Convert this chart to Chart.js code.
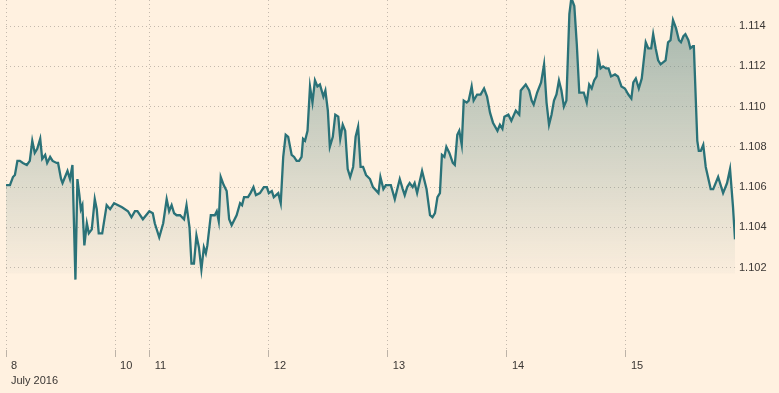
<!DOCTYPE html>
<html>
<head>
<meta charset="utf-8">
<script src="https://cdn.jsdelivr.net/npm/chart.js@4/dist/chart.umd.min.js"></script>
<style>
  html, body { margin: 0; padding: 0; background: #fff1e0; }
  #wrap { width: 779px; height: 393px; }
</style>
</head>
<body>
<div id="wrap"><canvas id="grafikKurs"></canvas></div>
<script>
// trading hours since the open of 8 July (weekend squeezed out)
const jam = [0, 0.8, 1.4, 1.8, 2.3, 2.8, 3.4, 4.2, 4.8, 5.3, 5.8, 6.3, 6.9, 7.3, 7.9, 8.3, 8.9, 9.4, 10.2, 10.5,
  11.1, 11.4, 11.9, 12.4, 12.9, 13.4, 14.0, 14.4, 14.8, 15.1, 15.4, 15.8, 16.3, 16.7, 17.3, 17.9, 18.3, 18.7, 19.4, 20.3,
  21.0, 21.8, 23.4, 24.6, 25.3, 26.0, 26.5, 27.6, 28.9, 29.6, 30.0, 30.9, 31.7, 32.4, 32.9, 33.4, 33.9, 34.4, 35.1, 35.9,
  36.4, 37.0, 37.4, 37.9, 38.4, 38.9, 39.4, 39.9, 40.3, 40.6, 41.3, 42.1, 42.5, 42.9, 43.3, 43.9, 44.5, 45.0, 45.5, 46.5,
  47.2, 47.6, 48.0, 48.8, 49.3, 49.9, 50.4, 51.2, 52.0, 52.6, 53.0, 53.6, 54.0, 54.9, 55.4, 55.9, 56.4, 56.9, 57.6, 58.1,
  58.6, 59.1, 59.6, 59.9, 60.3, 60.8, 61.3, 61.8, 62.3, 62.8, 63.3, 64.0, 64.4, 64.9, 65.3, 65.9, 66.4, 67.0, 67.4, 67.9,
  68.4, 68.9, 69.4, 70.0, 70.5, 71.0, 71.5, 72.0, 72.6, 73.4, 74.0, 75.1, 75.5, 76.1, 76.6, 77.6, 78.4, 79.4, 80.0, 80.4,
  80.9, 81.4, 82.0, 82.4, 82.9, 83.9, 84.8, 85.5, 86.0, 86.5, 87.0, 87.5, 87.9, 88.4, 88.8, 89.4, 90.1, 90.5, 91.0, 91.4,
  91.9, 92.3, 92.9, 93.3, 93.9, 94.3, 95.0, 95.7, 96.4, 97.0, 97.6, 98.2, 99.1, 99.6, 100.1, 100.5, 101.3, 101.9, 102.8, 103.5,
  103.8, 104.8, 105.5, 106.0, 106.4, 107.1, 107.9, 108.5, 109.0, 109.5, 110.0, 110.5, 111.0, 111.5, 112.0, 112.5, 113.0, 113.6, 114.0, 114.6,
  115.1, 115.6, 116.5, 117.1, 117.6, 118.1, 118.6, 119.1, 119.4, 119.9, 120.4, 121.0, 121.5, 122.0, 122.8, 123.4, 124.1, 124.8, 125.5, 126.1,
  126.5, 127.0, 127.6, 128.2, 129.0, 129.5, 130.1, 130.5, 131.0, 131.5, 132.0, 132.5, 133.0, 133.5, 134.0, 134.5, 135.1, 135.7, 136.1, 136.6,
  137.0, 137.6, 138.0, 138.5, 138.7, 139.4, 139.7, 140.1, 140.6, 141.1, 142.1, 142.6, 143.6, 144.6, 145.4, 146.0, 146.6, 147.0];
const kurs = [1.1061, 1.1061, 1.1065, 1.1066, 1.1073, 1.1073, 1.1072, 1.1071, 1.1073, 1.1083, 1.1077, 1.1079, 1.1084, 1.1074, 1.1076, 1.1072, 1.1075, 1.1073, 1.1072, 1.1072,
  1.1064, 1.1062, 1.1065, 1.1068, 1.1064, 1.1071, 1.1014, 1.1064, 1.1056, 1.1049, 1.1051, 1.1031, 1.1042, 1.1037, 1.1039, 1.1054, 1.1049, 1.1037, 1.1037, 1.1051,
  1.1049, 1.1052, 1.1050, 1.1048, 1.1045, 1.1048, 1.1048, 1.1044, 1.1048, 1.1047, 1.1042, 1.1035, 1.1042, 1.1054, 1.1048, 1.1051, 1.1047, 1.1046, 1.1046, 1.1044,
  1.1051, 1.1040, 1.1022, 1.1022, 1.1036, 1.1030, 1.1019, 1.1030, 1.1027, 1.1031, 1.1046, 1.1046, 1.1048, 1.1043, 1.1065, 1.1061, 1.1058, 1.1044, 1.1041, 1.1046,
  1.1052, 1.1051, 1.1055, 1.1055, 1.1057, 1.1060, 1.1056, 1.1057, 1.1060, 1.1060, 1.1057, 1.1058, 1.1055, 1.1057, 1.1052, 1.1075, 1.1086, 1.1085, 1.1076, 1.1075,
  1.1073, 1.1073, 1.1075, 1.1084, 1.1083, 1.1088, 1.1110, 1.1102, 1.1113, 1.1110, 1.1111, 1.1105, 1.1108, 1.1098, 1.1080, 1.1085, 1.1096, 1.1095, 1.1084, 1.1091,
  1.1088, 1.1069, 1.1065, 1.1070, 1.1085, 1.1090, 1.1070, 1.1070, 1.1066, 1.1064, 1.1060, 1.1057, 1.1065, 1.1059, 1.1061, 1.1061, 1.1054, 1.1064, 1.1059, 1.1056,
  1.1060, 1.1062, 1.1060, 1.1062, 1.1057, 1.1068, 1.1059, 1.1046, 1.1045, 1.1047, 1.1055, 1.1057, 1.1076, 1.1075, 1.1080, 1.1077, 1.1072, 1.1071, 1.1086, 1.1088,
  1.1081, 1.1103, 1.1102, 1.1103, 1.1110, 1.1103, 1.1106, 1.1106, 1.1109, 1.1105, 1.1097, 1.1092, 1.1088, 1.1091, 1.1089, 1.1095, 1.1096, 1.1093, 1.1098, 1.1096,
  1.1108, 1.1111, 1.1108, 1.1103, 1.1101, 1.1107, 1.1112, 1.1121, 1.1102, 1.1091, 1.1096, 1.1103, 1.1106, 1.1113, 1.1108, 1.1100, 1.1103, 1.1146, 1.1154, 1.1150,
  1.1131, 1.1107, 1.1107, 1.1102, 1.1111, 1.1109, 1.1113, 1.1115, 1.1125, 1.1119, 1.1120, 1.1119, 1.1119, 1.1115, 1.1116, 1.1115, 1.1110, 1.1109, 1.1106, 1.1104,
  1.1112, 1.1114, 1.1109, 1.1114, 1.1132, 1.1129, 1.1129, 1.1136, 1.1129, 1.1123, 1.1121, 1.1122, 1.1123, 1.1132, 1.1133, 1.1143, 1.1139, 1.1133, 1.1132, 1.1135,
  1.1136, 1.1133, 1.1129, 1.1130, 1.1130, 1.1083, 1.1078, 1.1078, 1.1081, 1.1070, 1.1059, 1.1059, 1.1065, 1.1057, 1.1062, 1.1069, 1.1050, 1.1034];

const posisiTanggal = [0, 22, 29, 53, 77, 101, 125];
const labelTanggal = ['8', '10', '11', '12', '13', '14', '15'];
const bulan = 'July 2016';
const tickKurs = [1.102, 1.104, 1.106, 1.108, 1.110, 1.112, 1.114];

const warnaGaris = '#2a7278';
const warnaGrid = '#c4b9ad';
const warnaTeks = '#3a3633';
const dasarIsi = 1.1017;

Chart.defaults.font.family = "'Liberation Sans', Arial, sans-serif";
Chart.defaults.font.size = 11;
Chart.defaults.color = warnaTeks;

const ctx = document.getElementById('grafikKurs').getContext('2d');
const chart = new Chart(ctx, {
    type: 'line',
    data: {
        datasets: [{
            label: 'EUR/USD',
            data: jam.map((j, i) => ({ x: j, y: kurs[i] })),
            borderColor: warnaGaris,
            borderWidth: 2.3,
            pointRadius: 0,
            tension: 0,
            fill: { value: dasarIsi },
            backgroundColor: (c) => {
                const area = c.chart.chartArea;
                if (!area) return 'rgba(0,0,0,0)';
                const yBawah = c.chart.scales.y.getPixelForValue(dasarIsi);
                const g = c.chart.ctx.createLinearGradient(0, area.top, 0, yBawah);
                g.addColorStop(0, 'rgba(100, 140, 135, 0.6)');
                g.addColorStop(1, 'rgba(100, 140, 135, 0.03)');
                return g;
            }
        }]
    },
    options: {
        responsive: true,
        maintainAspectRatio: false,
        animation: false,
        layout: { padding: { left: 6, right: 6, top: 0, bottom: 6 } },
        plugins: {
            legend: { display: false },
            tooltip: { enabled: false }
        },
        scales: {
            x: {
                type: 'linear',
                min: 0,
                max: 147,
                afterBuildTicks: (axis) => {
                    axis.ticks = posisiTanggal.map(v => ({ value: v }));
                },
                afterFit: (axis) => {
                    axis.height = 37;
                    axis.paddingLeft = 0;
                    axis.paddingRight = 0;
                },
                ticks: {
                    autoSkip: false,
                    maxRotation: 0,
                    align: 'start',
                    labelOffset: 5,
                    padding: 1.5,
                    font: { size: 11, lineHeight: 1.36 },
                    callback: (v, i) => i === 0 ? [labelTanggal[i], bulan] : labelTanggal[i]
                },
                grid: {
                    color: warnaGrid,
                    tickLength: 7,
                    tickColor: '#bdb3a8',
                    tickBorderDash: []
                },
                border: { display: false, dash: [1, 3] }
            },
            y: {
                position: 'right',
                min: 1.0979,
                max: 1.1153,
                afterBuildTicks: (axis) => {
                    axis.ticks = tickKurs.map(v => ({ value: v }));
                },
                afterFit: (axis) => {
                    axis.width = 38;
                    axis.paddingTop = 0;
                    axis.paddingBottom = 0;
                },
                ticks: {
                    padding: 4,
                    callback: (v) => v.toFixed(3)
                },
                grid: {
                    color: warnaGrid,
                    drawTicks: false
                },
                border: { display: false, dash: [1, 3] }
            }
        }
    }
});
</script>
</body>
</html>
